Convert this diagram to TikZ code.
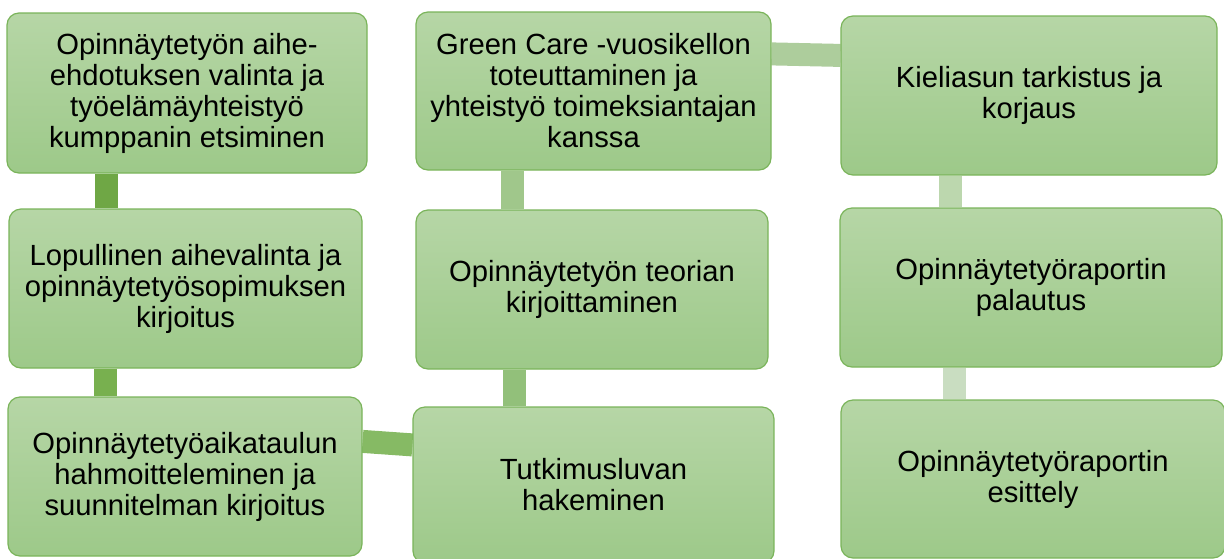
\documentclass[tikz,border=0pt]{standalone}
\usepackage{fontspec}
\setmainfont{Liberation Sans}
\usetikzlibrary{calc,backgrounds}
\definecolor{boxtop}{RGB}{182,214,166}
\definecolor{boxbot}{RGB}{157,201,137}
\definecolor{boxline}{RGB}{122,180,90}
\definecolor{cA}{RGB}{111,167,69}
\definecolor{cB}{RGB}{120,176,79}
\definecolor{cC}{RGB}{134,186,100}
\definecolor{cD}{RGB}{146,192,122}
\definecolor{cE}{RGB}{160,199,139}
\definecolor{cF}{RGB}{173,205,156}
\definecolor{cG}{RGB}{188,215,174}
\definecolor{cH}{RGB}{201,221,193}
\tikzset{
  stepbox/.style={rectangle, rounded corners=12pt, draw=boxline, line width=1.2pt,
    top color=boxtop, bottom color=boxbot, inner sep=0pt, align=center,
    font=\fontsize{29.2pt}{31pt}\selectfont, text=black},
  bar/.style={line width=23pt, line cap=butt}
}
\begin{document}
\begin{tikzpicture}[x=1pt,y=-1pt]
\useasboundingbox (0,0) rectangle (1224,558);
\clip (0,0) rectangle (1224,558);

\node[stepbox, minimum width=360pt, minimum height=160pt] (b1) at (187,93)
  {Opinnäytetyön aihe-\\ehdotuksen valinta ja\\työelämäyhteistyö\\kumppanin etsiminen};
\node[stepbox, minimum width=353pt, minimum height=159pt] (b2) at (185.5,288.5)
  {Lopullinen aihevalinta ja\\opinnäytetyösopimuksen\\kirjoitus};
\node[stepbox, minimum width=354pt, minimum height=159pt] (b3) at (185,476.5)
  {Opinnäytetyöaikataulun\\hahmoitteleminen ja\\suunnitelman kirjoitus};
\node[stepbox, minimum width=355pt, minimum height=158pt] (b4) at (593.5,91)
  {Green Care -vuosikellon\\toteuttaminen ja\\yhteistyö toimeksiantajan\\kanssa};
\node[stepbox, minimum width=352pt, minimum height=159pt] (b5) at (592,289.5)
  {Opinnäytetyön teorian\\kirjoittaminen};
\node[stepbox, minimum width=361pt, minimum height=156pt] (b6) at (593.5,485)
  {Tutkimusluvan\\hakeminen};
\node[stepbox, minimum width=376pt, minimum height=159pt] (b7) at (1029,95.5)
  {Kieliasun tarkistus ja\\korjaus};
\node[stepbox, minimum width=382pt, minimum height=159pt] (b8) at (1031,287.5)
  {Opinnäytetyöraportin\\palautus};
\node[stepbox, minimum width=384pt, minimum height=158pt] (b9) at (1033,479)
  {Opinnäytetyöraportin\\esittely};

\begin{pgfonlayer}{background}
\draw[bar, cA] ($(b1.south west)+(100.5,0)$) -- ($(b2.north west)+(98.5,0)$);
\draw[bar, cB] ($(b2.south west)+(97,0)$) -- ($(b3.north west)+(98,0)$);
\draw[bar, cC] ($(b3.north east)+(0,45)$) -- ($(b6.north west)+(0,38.5)$);
\draw[bar, cD] ($(b6.north west)+(102,0)$) -- ($(b5.south west)+(99,0)$);
\draw[bar, cE] ($(b5.north west)+(97.5,0)$) -- ($(b4.south west)+(97.5,0)$);
\draw[bar, cF] ($(b4.north east)+(0,42.5)$) -- ($(b7.north west)+(0,40)$);
\draw[bar, cG] ($(b7.south west)+(110.5,0)$) -- ($(b8.north west)+(111.5,0)$);
\draw[bar, cH] ($(b8.south west)+(115,0)$) -- ($(b9.north west)+(114,0)$);
\end{pgfonlayer}
\end{tikzpicture}
\end{document}
